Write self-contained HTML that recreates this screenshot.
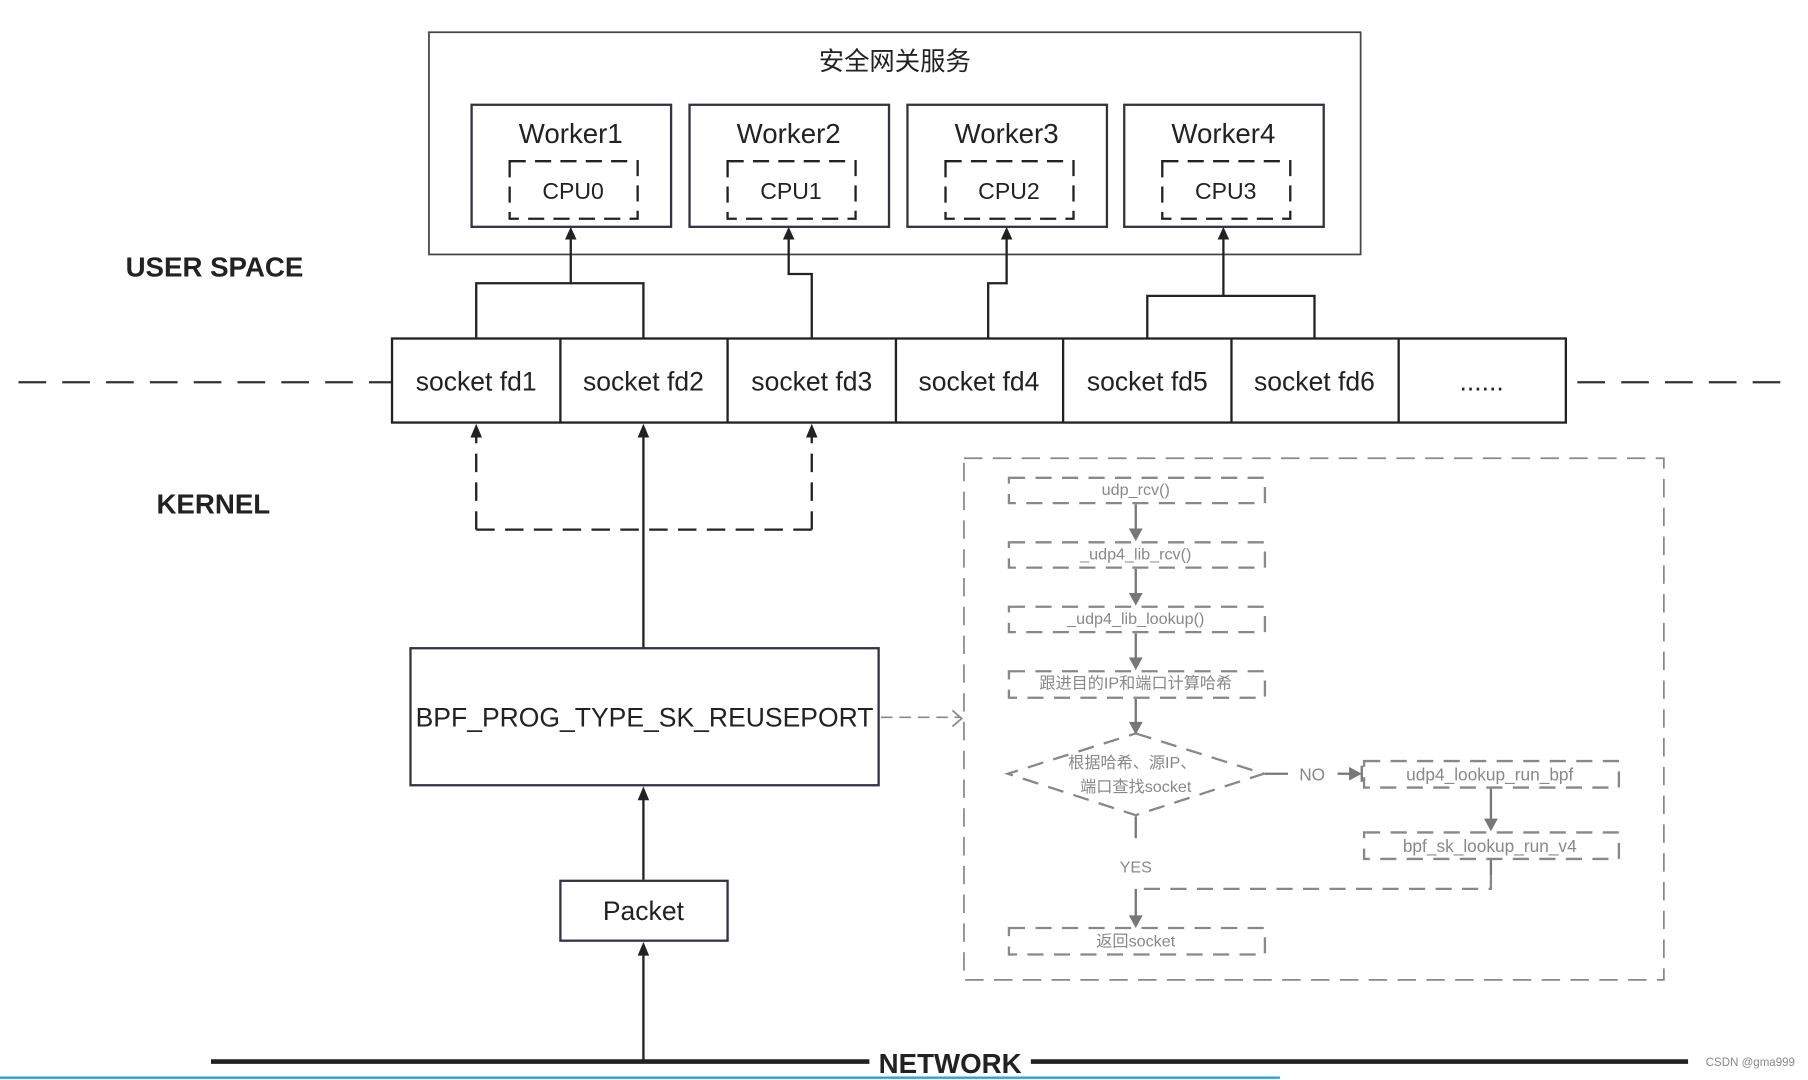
<!DOCTYPE html>
<html><head><meta charset="utf-8"><style>
html,body{margin:0;padding:0;background:#fff;width:1808px;height:1080px;overflow:hidden}
svg{display:block}
text{font-family:"Liberation Sans","Noto Sans CJK SC",sans-serif}
</style></head><body>
<svg width="1808" height="1080" viewBox="0 0 1568 938" preserveAspectRatio="none" xmlns="http://www.w3.org/2000/svg">
<rect width="1568" height="938" fill="#fff"/>
<rect x="372" y="28" width="808" height="193" fill="none" stroke="#444" stroke-width="1.5"/>
<text x="776" y="61" font-size="22" text-anchor="middle" fill="#222">安全网关服务</text>
<g stroke="#334" stroke-width="2" fill="none">
<rect x="409" y="91" width="173" height="106"/>
<rect x="598" y="91" width="173" height="106"/>
<rect x="787" y="91" width="173" height="106"/>
<rect x="975" y="91" width="173" height="106"/>
</g>
<g stroke="#222" stroke-width="2" fill="none" stroke-dasharray="14,8">
<rect x="442" y="140" width="111" height="50"/>
<rect x="631" y="140" width="111" height="50"/>
<rect x="820" y="140" width="111" height="50"/>
<rect x="1008" y="140" width="111" height="50"/>
</g>
<g font-size="24" text-anchor="middle" fill="#222">
<text x="495" y="124">Worker1</text><text x="684" y="124">Worker2</text>
<text x="873" y="124">Worker3</text><text x="1061" y="124">Worker4</text>
</g>
<g font-size="20" text-anchor="middle" fill="#222">
<text x="497" y="173">CPU0</text><text x="686" y="173">CPU1</text>
<text x="875" y="173">CPU2</text><text x="1063" y="173">CPU3</text>
</g>
<text x="186" y="240" font-size="24" font-weight="bold" text-anchor="middle" fill="#222">USER SPACE</text>
<text x="185" y="446" font-size="24" font-weight="bold" text-anchor="middle" fill="#222">KERNEL</text>
<g stroke="#222" stroke-width="2" fill="none">
<path d="M413,294 V246 H558 V294"/><path d="M495,246 V205"/>
<path d="M704,294 V238 H684 V205"/>
<path d="M857,294 V246 H873 V205"/>
<path d="M995,294 V257 H1140 V294"/><path d="M1061,257 V205"/>
</g>
<g fill="#222">
<polygon points="490,208 495,197 500,208"/>
<polygon points="679,208 684,197 689,208"/>
<polygon points="868,208 873,197 878,208"/>
<polygon points="1056,208 1061,197 1066,208"/>
</g>
<g stroke="#333" stroke-width="2" stroke-dasharray="24,14">
<line x1="16" y1="332" x2="340" y2="332"/><line x1="1368" y1="332" x2="1545" y2="332"/>
</g>
<rect x="340" y="294" width="1018" height="73" fill="#fff" stroke="#222" stroke-width="2"/>
<g stroke="#222" stroke-width="2">
<line x1="486" y1="294" x2="486" y2="367"/><line x1="631" y1="294" x2="631" y2="367"/>
<line x1="777" y1="294" x2="777" y2="367"/><line x1="922" y1="294" x2="922" y2="367"/>
<line x1="1068" y1="294" x2="1068" y2="367"/><line x1="1213" y1="294" x2="1213" y2="367"/>
</g>
<g font-size="23" text-anchor="middle" fill="#222">
<text x="413" y="339">socket fd1</text><text x="558" y="339">socket fd2</text>
<text x="704" y="339">socket fd3</text><text x="849" y="339">socket fd4</text>
<text x="995" y="339">socket fd5</text><text x="1140" y="339">socket fd6</text>
<text x="1285" y="339">......</text>
</g>
<g stroke="#222" stroke-width="2" fill="none">
<path d="M413,460 H704" stroke-dasharray="16,9"/>
<path d="M413,460 V378" stroke-dasharray="16,9"/>
<path d="M704,460 V378" stroke-dasharray="16,9"/>
<path d="M558,563 V378"/>
<path d="M558,764 V692"/>
<path d="M558,922 V827"/>
</g>
<g fill="#222">
<polygon points="408,380 413,368 418,380"/>
<polygon points="553,380 558,368 563,380"/>
<polygon points="699,380 704,368 709,380"/>
<polygon points="553,695 558,683 563,695"/>
<polygon points="553,830 558,818 563,830"/>
</g>
<rect x="356" y="563" width="406" height="119" fill="#fff" stroke="#334" stroke-width="2"/>
<text x="559" y="631" font-size="23" text-anchor="middle" fill="#222">BPF_PROG_TYPE_SK_REUSEPORT</text>
<rect x="486" y="765" width="145" height="52" fill="#fff" stroke="#334" stroke-width="2"/>
<text x="558" y="799" font-size="23" text-anchor="middle" fill="#222">Packet</text>
<path d="M764,623 H832" stroke="#888" stroke-width="1.5" stroke-dasharray="10,6" fill="none"/>
<path d="M826,617 L834,624 L826,631" stroke="#888" stroke-width="1.5" fill="none"/>
<rect x="836" y="398" width="607" height="453" fill="none" stroke="#888" stroke-width="1.5" stroke-dasharray="16,9"/>
<g stroke="#888" stroke-width="2" fill="none" stroke-dasharray="14,9">
<rect x="875" y="415" width="222" height="22"/>
<rect x="875" y="471" width="222" height="22"/>
<rect x="875" y="527" width="222" height="22"/>
<rect x="875" y="583" width="222" height="23"/>
<path d="M985,637 L1096,672 L985,708 L874,672 Z"/>
<rect x="1183" y="661" width="221" height="23"/>
<rect x="1183" y="723" width="221" height="23"/>
<rect x="875" y="806" width="222" height="23"/>
<path d="M1293,760 V772 H985"/>
</g>
<g stroke="#777" stroke-width="2" fill="none">
<path d="M985,438 V460"/>
<path d="M985,494 V516"/>
<path d="M985,550 V572"/>
<path d="M985,607 V628"/>
<path d="M1293,685 V712"/>
<path d="M1293,747 V760"/>
<path d="M985,772 V796"/>
<path d="M985,709 V728"/>
<path d="M1097,672 H1117"/>
<path d="M1160,672 H1172"/>
</g>
<g fill="#777">
<polygon points="979,459 991,459 985,470"/>
<polygon points="979,515 991,515 985,526"/>
<polygon points="979,571 991,571 985,582"/>
<polygon points="979,627 991,627 985,638"/>
<polygon points="1287,711 1299,711 1293,722"/>
<polygon points="979,795 991,795 985,806"/>
<polygon points="1170,666 1170,678 1181,672"/>
<rect x="1180" y="665" width="2" height="14"/>
</g>
<g font-size="14" text-anchor="middle" fill="#888">
<text x="985" y="430">udp_rcv()</text>
<text x="985" y="486">_udp4_lib_rcv()</text>
<text x="985" y="542">_udp4_lib_lookup()</text>
<text x="985" y="598">跟进目的IP和端口计算哈希</text>
<text x="982" y="667">根据哈希、源IP、</text>
<text x="985" y="688">端口查找socket</text>
<text x="1138" y="678" font-size="15">NO</text>
<text x="1292" y="678" font-size="15">udp4_lookup_run_bpf</text>
<text x="1292" y="740" font-size="15">bpf_sk_lookup_run_v4</text>
<text x="985" y="758">YES</text>
<text x="985" y="822">返回socket</text>
</g>
<line x1="183" y1="922" x2="1464" y2="922" stroke="#222" stroke-width="4"/>
<rect x="754" y="908" width="140" height="28" fill="#fff"/>
<text x="824" y="932" font-size="24" font-weight="bold" text-anchor="middle" fill="#222">NETWORK</text>
<text x="1518" y="926" font-size="10" text-anchor="middle" fill="#888">CSDN @gma999</text>
<line x1="0" y1="936" x2="1110" y2="936" stroke="#29a3e0" stroke-width="2"/>
</svg>
</body></html>
